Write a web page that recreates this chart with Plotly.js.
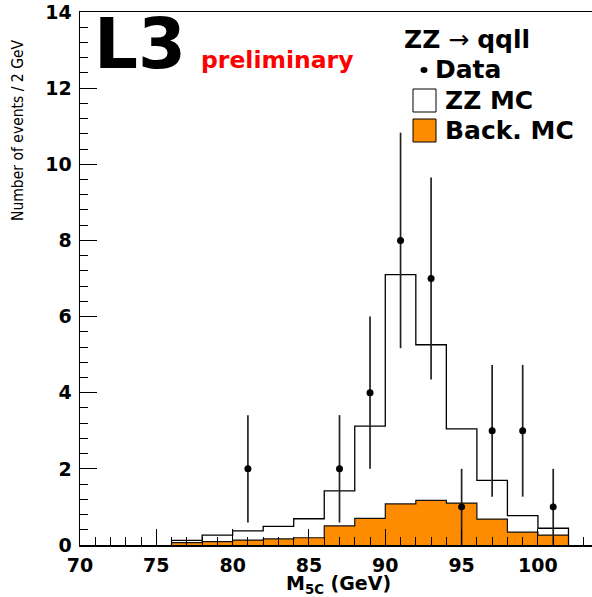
<!DOCTYPE html>
<html>
<head>
<meta charset="utf-8">
<script src="https://cdn.plot.ly/plotly-3.0.1.min.js"></script>
<style>
html,body{margin:0;padding:0;overflow:hidden;background:#fff;}
#chart{width:600px;height:597px;}
.xtick text, .ytick text{font-weight:bold !important;}
</style>
</head>
<body>
<div id="chart"></div>
<script>
// Histogram bin edges (GeV)
var binEdges = [76,78,80,82,84,86,88,90,92,94,96,98,100,102];
// ZZ MC (white histogram top, events / 2 GeV)
var zzMC = [0.12,0.26,0.37,0.49,0.69,1.42,3.12,7.1,5.26,3.05,1.7,0.77,0.44];
// Background MC (orange)
var backMC = [0.06,0.09,0.13,0.16,0.19,0.5,0.7,1.08,1.17,1.1,0.68,0.34,0.26];
// Data points
var dataX = [81,87,89,91,93,95,97,99,101];
var dataY = [2,2,4,8,7,1,3,3,1];
var dataErr = [1.41,1.41,2,2.83,2.65,1,1.73,1.73,1];
// Axis ticks
var xTicks = [70,75,80,85,90,95,100];
var yTicks = [0,2,4,6,8,10,12,14];

function stepXY(edges, vals){
  var xs=[edges[0]], ys=[0];
  for (var i=0;i<vals.length;i++){ xs.push(edges[i]); ys.push(vals[i]); }
  xs.push(edges[edges.length-1]); ys.push(vals[vals.length-1]);
  xs.push(edges[edges.length-1]); ys.push(0);
  return {x:xs,y:ys};
}
var zzS = stepXY(binEdges, zzMC);
var bkS = stepXY(binEdges, backMC);

var traces = [
  {x:zzS.x, y:zzS.y, type:'scatter', mode:'lines', line:{shape:'hv', color:'#000', width:1.3},
   fill:'tozeroy', fillcolor:'#ffffff', hoverinfo:'skip', showlegend:false},
  {x:bkS.x, y:bkS.y, type:'scatter', mode:'lines', line:{shape:'hv', color:'#111', width:1.2},
   fill:'tozeroy', fillcolor:'#ff8c00', hoverinfo:'skip', showlegend:false},
  {x:dataX, y:dataY, type:'scatter', mode:'markers', marker:{color:'#000', size:7},
   error_y:{type:'data', array:dataErr, visible:true, color:'#222', thickness:1.7, width:0},
   showlegend:false}
];

// page-pixel helpers for annotation/legend placement
var L=80, R=599, T=12, B=545;
function px(x){ return (x-L)/(R-L); }
function py(y){ return (B-y)/(B-T); }

var boldFont = 'DejaVu Sans, Liberation Sans, Arial, sans-serif';

var layout = {
  width:600, height:597,
  margin:{l:80, r:1, t:12, b:52},
  paper_bgcolor:'#fff', plot_bgcolor:'#fff',
  showlegend:false,
  xaxis:{range:[70,104], tickvals:xTicks, ticktext:xTicks.map(String),
    ticks:'inside', ticklen:16, tickwidth:1, tickcolor:'#000',
    minor:{dtick:1, tick0:70, ticks:'inside', ticklen:8, tickwidth:1, tickcolor:'#000'},
    showline:true, linecolor:'#000', linewidth:1.5, mirror:true,
    showgrid:false, zeroline:false, ticklabelstandoff:3,
    tickfont:{family:boldFont, size:19, color:'#000', weight:700}},
  yaxis:{range:[0,14], tickvals:yTicks, ticktext:yTicks.map(String),
    ticks:'inside', ticklen:17, tickwidth:1, tickcolor:'#000',
    minor:{dtick:0.4, tick0:0, ticks:'inside', ticklen:8, tickwidth:1, tickcolor:'#000'},
    showline:true, linecolor:'#000', linewidth:1.5, mirror:true,
    showgrid:false, zeroline:false, ticklabelstandoff:3,
    tickfont:{family:boldFont, size:19, color:'#000', weight:700}},
  shapes:[
    {type:'rect', xref:'paper', yref:'paper', x0:px(413), x1:px(436), y0:py(89), y1:py(112),
     fillcolor:'#fff', line:{color:'#000', width:1}},
    {type:'rect', xref:'paper', yref:'paper', x0:px(413), x1:px(436), y0:py(119), y1:py(142),
     fillcolor:'#ff8c00', line:{color:'#000', width:1}},
    {type:'circle', xref:'paper', yref:'paper', x0:px(420.5), x1:px(427.5), y0:py(67), y1:py(73),
     fillcolor:'#000', line:{color:'#000', width:0}}
  ],
  annotations:[
    {text:'<b>L3</b>', xref:'paper', yref:'paper', x:px(92), y:py(43.5), xanchor:'left', yanchor:'middle',
     showarrow:false, font:{family:boldFont, size:69, color:'#000'}},
    {text:'<b>preliminary</b>', xref:'paper', yref:'paper', x:px(199), y:py(60), xanchor:'left', yanchor:'middle',
     showarrow:false, font:{family:boldFont, size:23.5, color:'#ff0000'}},
    {text:'<b>ZZ</b> <span style="font-weight:normal">\u2192</span> <b>qqll</b>', xref:'paper', yref:'paper', x:px(402), y:py(39.5), xanchor:'left', yanchor:'middle',
     showarrow:false, font:{family:boldFont, size:25, color:'#000'}},
    {text:'<b>Data</b>', xref:'paper', yref:'paper', x:px(433), y:py(70), xanchor:'left', yanchor:'middle',
     showarrow:false, font:{family:boldFont, size:25, color:'#000'}},
    {text:'<b>ZZ MC</b>', xref:'paper', yref:'paper', x:px(443), y:py(100.5), xanchor:'left', yanchor:'middle',
     showarrow:false, font:{family:boldFont, size:25, color:'#000'}},
    {text:'<b>Back. MC</b>', xref:'paper', yref:'paper', x:px(443), y:py(130.5), xanchor:'left', yanchor:'middle',
     showarrow:false, font:{family:boldFont, size:25, color:'#000'}},
    {text:'<b>M<sub>5C</sub> (GeV)</b>', xref:'paper', yref:'paper', x:px(338), y:py(584.5), xanchor:'center', yanchor:'middle',
     showarrow:false, font:{family:boldFont, size:19, color:'#000'}},
    {text:'Number of events / 2 GeV', xref:'paper', yref:'paper', x:px(18), y:py(130), xanchor:'center', yanchor:'middle',
     textangle:-90, showarrow:false,
     font:{family:'DejaVu Sans Condensed, DejaVu Sans, sans-serif', size:15.5, color:'#000'}}
  ]
};

Plotly.newPlot('chart', traces, layout, {staticPlot:true, displayModeBar:false});
</script>
</body>
</html>
